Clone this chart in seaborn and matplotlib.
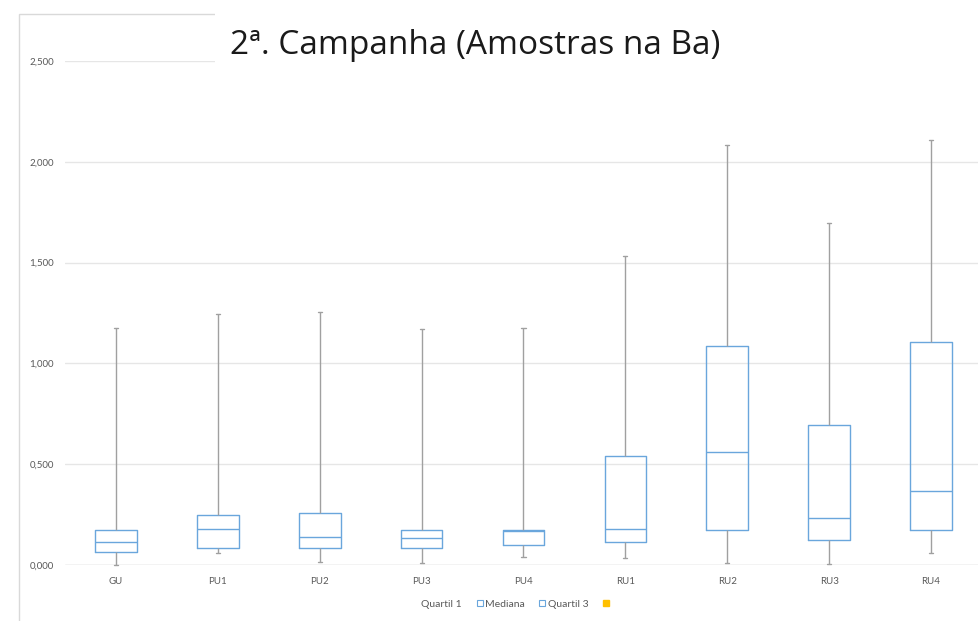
import matplotlib
matplotlib.use("Agg")
import matplotlib.pyplot as plt
import matplotlib.patches as mpatches
from matplotlib.lines import Line2D
import seaborn as sns
import pandas as pd

categories = ["GU", "PU1", "PU2", "PU3", "PU4", "RU1", "RU2", "RU3", "RU4"]
minimum = [0.000, 0.061, 0.017, 0.008, 0.041, 0.033, 0.011, 0.005, 0.058]
quartil1 = [0.063, 0.083, 0.083, 0.086, 0.099, 0.113, 0.174, 0.124, 0.174]
mediana = [0.116, 0.177, 0.137, 0.132, 0.169, 0.180, 0.560, 0.232, 0.367]
quartil3 = [0.174, 0.248, 0.256, 0.174, 0.174, 0.541, 1.085, 0.694, 1.108]
maximum = [1.175, 1.245, 1.253, 1.171, 1.174, 1.533, 2.083, 1.696, 2.108]
y_ticks = [0.0, 0.5, 1.0, 1.5, 2.0, 2.5]
y_tick_labels = ["0,000", "0,500", "1,000", "1,500", "2,000", "2,500"]
title = "2ª. Campanha (Amostras na Ba)"
legend_labels = ["Quartil 1", "Mediana", "Quartil 3", ""]

# Five-number summaries as data: with whis=(0,100), linear percentiles of
# [min, q1, med, q3, max] reproduce exactly these statistics.
rows = []
for c, a, b, m, d, e in zip(categories, minimum, quartil1, mediana, quartil3, maximum):
    for v in (a, b, m, d, e):
        rows.append({"cat": c, "val": v})
df = pd.DataFrame(rows)

sns.set_theme(style="white")
plt.rcParams["font.family"] = ["Lato", "DejaVu Sans"]

W, H = 979, 621
fig = plt.figure(figsize=(W / 100, H / 100), dpi=100)
ax = fig.add_axes([65 / W, (H - 565) / H, (982 - 65) / W, (565 - 61) / H])

blue = "#6AA6DC"
grey = "#a0a0a0"
sns.boxplot(data=df, x="cat", y="val", order=categories, whis=(0, 100),
            width=0.41, ax=ax, fill=False, linewidth=1.0,
            boxprops=dict(color=blue),
            medianprops=dict(color=blue, linewidth=1.0),
            whiskerprops=dict(color=grey, linewidth=1.0),
            capprops=dict(color=grey, linewidth=1.0),
            capwidths=0.04, showfliers=False)
for artist in ax.lines + ax.patches:
    artist.set_clip_on(False)

ax.set_ylim(0, 2.5)
ax.set_xlim(-0.5, len(categories) - 0.5)
ax.set_yticks(y_ticks)
ax.set_yticklabels(y_tick_labels)
ax.grid(axis="y", color="#e6e6e6", linewidth=1.0)
ax.set_axisbelow(True)
for s in ax.spines.values():
    s.set_visible(False)
ax.set_xlabel("")
ax.set_ylabel("")
ax.tick_params(axis="both", length=0, labelsize=7, colors="#595959")
ax.tick_params(axis="y", pad=8)
ax.tick_params(axis="x", pad=9)
ax.axhline(0, color="#d9d9d9", linewidth=1.0, zorder=0)

# chart frame
fig.patches.append(mpatches.Rectangle((19 / W, -0.1), 1.2, 1.1 - 14 / H,
                                      transform=fig.transFigure, fill=False,
                                      edgecolor="#d9d9d9", linewidth=1.0))
# title box (white) covering top-right part
fig.patches.append(mpatches.Rectangle((215 / W, 1 - 70 / H), 1.0, 70 / H + 0.01,
                                      transform=fig.transFigure, facecolor="white",
                                      edgecolor="none", zorder=5))
fig.text(230 / W, 1 - 46 / H, title, fontsize=24, color="#1a1a1a",
         va="center", ha="left", family=["Open Sans", "DejaVu Sans"], zorder=6)

handles = [
    Line2D([], [], linestyle="none", marker="s", markersize=0),
    Line2D([], [], linestyle="none", marker="s", markersize=5,
           markerfacecolor="white", markeredgecolor=blue, markeredgewidth=0.8),
    Line2D([], [], linestyle="none", marker="s", markersize=5,
           markerfacecolor="white", markeredgecolor=blue, markeredgewidth=0.8),
    Line2D([], [], linestyle="none", marker="s", markersize=5,
           markerfacecolor="#FFC000", markeredgecolor="#FFC000"),
]
leg = fig.legend(handles, legend_labels, loc="center", ncol=4,
                 bbox_to_anchor=(512 / W, 1 - 604 / H), frameon=False,
                 fontsize=7.5, handlelength=0.6, handletextpad=0.2,
                 columnspacing=1.4, labelcolor="#595959")

fig.savefig("out.png", dpi=100, facecolor="white")
